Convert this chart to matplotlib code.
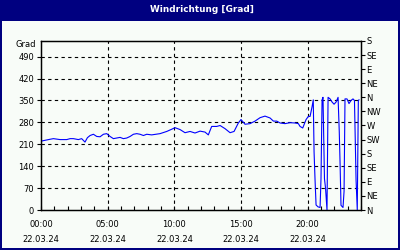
import matplotlib
matplotlib.use("Agg")
import matplotlib.pyplot as plt
from matplotlib.patches import Rectangle
import numpy as np

# ---- data (hours since 00:00, wind direction in degrees) ----
hours = [0.0, 0.68, 0.93, 1.43, 1.93, 2.18, 2.43, 2.8, 3.05, 3.3, 3.48, 3.68, 3.93, 4.18,
         4.43, 4.68, 4.93, 5.18, 5.43, 5.68, 5.93, 6.18, 6.43, 6.68, 6.93, 7.18, 7.43, 7.68,
         7.93, 8.3, 8.93, 9.43, 9.8, 10.05, 10.43, 10.8, 11.18, 11.55, 11.93, 12.3, 12.55,
         12.8, 13.18, 13.43, 13.8, 14.18, 14.48, 14.8, 15.0, 15.3, 15.68, 16.05, 16.43,
         16.8, 17.18, 17.43, 17.68, 17.93, 18.3, 18.68, 19.05, 19.3, 19.43, 19.63, 19.88,
         20.05, 20.18, 20.33, 20.42, 20.48, 20.55, 20.63, 20.78, 20.93, 21.0, 21.08, 21.15,
         21.26, 21.34, 21.45, 21.53, 21.68, 21.83, 21.98, 22.13, 22.28, 22.37, 22.43, 22.5,
         22.65, 22.73, 22.8, 22.95, 23.1, 23.25, 23.4, 23.51, 23.55, 23.63, 23.72, 23.8, 23.85]
direction = [220, 226, 228, 225, 225, 228, 228, 225, 228, 217, 231, 238, 242, 235,
             234, 242, 244, 235, 228, 230, 232, 228, 230, 235, 242, 244, 242, 238,
             242, 240, 244, 251, 258, 263, 257, 247, 251, 246, 252, 249, 240,
             267, 267, 270, 260, 247, 251, 278, 289, 274, 276, 284, 295,
             300, 294, 284, 284, 278, 276, 279, 278, 276, 267, 262, 289,
             299, 299, 330, 352, 186, 100, 16, 10, 8, 100, 352, 360,
             100, 70, 0, 360, 355, 345, 338, 345, 360, 250, 150, 15,
             8, 60, 355, 355, 340, 350, 355, 350, 265, 95, 0, 350, 352]

x_ticks = [0, 5, 10, 15, 20]
x_tick_labels = ["00:00\n22.03.24", "05:00\n22.03.24", "10:00\n22.03.24",
                 "15:00\n22.03.24", "20:00\n22.03.24"]
y_ticks = [0, 70, 140, 210, 280, 350, 420, 490]
compass_ticks = [0, 45, 90, 135, 180, 225, 270, 315, 360, 405, 450, 495, 540]
compass_labels = ["N", "NE", "E", "SE", "S", "SW", "W", "NW", "N", "NE", "E", "SE", "S"]

title = "Windrichtung [Grad]"
unit = "Grad"

NAVY = "#000080"
BG = "#F8FCF8"
W, H = 400, 250

fig = plt.figure(figsize=(4, 2.5), dpi=100)
fig.patch.set_facecolor(NAVY)
fig.patches.append(Rectangle((2 / W, 2 / H), (W - 4) / W, (H - 21 - 2) / H,
                             transform=fig.transFigure, facecolor=BG,
                             edgecolor="none", zorder=-5))
fig.text(202 / W, 1 - 9.5 / H, title, color="white", fontsize=6.4,
         fontweight="bold", ha="center", va="center", family="DejaVu Sans")

ax = fig.add_axes([41 / W, 1 - 210 / H, 320 / W, 169 / H], zorder=2)
ax.set_facecolor(BG)
ax.plot(hours, direction, color="#0000FF", lw=0.8, zorder=3)
ax.set_xlim(0, 24)
ax.set_ylim(0, 540)

ax.set_xticks(x_ticks)
ax.set_xticklabels(x_tick_labels, fontsize=6, linespacing=1.95)
ax.set_xticks(np.arange(0, 25, 1), minor=True)
ax.tick_params(axis="x", which="both", direction="in", length=3, width=0.8,
               pad=7, colors="black", top=False)
ax.set_yticks(y_ticks)
ax.set_yticklabels([str(v) for v in y_ticks], fontsize=6)
ax.tick_params(axis="y", direction="out", length=3, width=0.8, pad=2)

for v in y_ticks[1:]:
    ax.axhline(v, color="black", lw=0.8, ls=(0, (3, 3)), zorder=1)
for v in x_ticks[1:]:
    ax.axvline(v, color="black", lw=0.8, ls=(0, (3, 3)), zorder=1)

for s in ax.spines.values():
    s.set_linewidth(0.9)
    s.set_color("black")

ax2 = ax.twinx()
ax2.set_ylim(0, 540)
ax2.set_yticks(compass_ticks)
ax2.set_yticklabels(compass_labels, fontsize=6)
ax2.tick_params(axis="y", direction="out", length=3, width=0.8, pad=1)
for s in ax2.spines.values():
    s.set_linewidth(0.9)

fig.text(36 / W, 1 - 45 / H, unit, fontsize=6, ha="right", va="center")

fig.savefig("out.png", dpi=100, facecolor=fig.get_facecolor())
